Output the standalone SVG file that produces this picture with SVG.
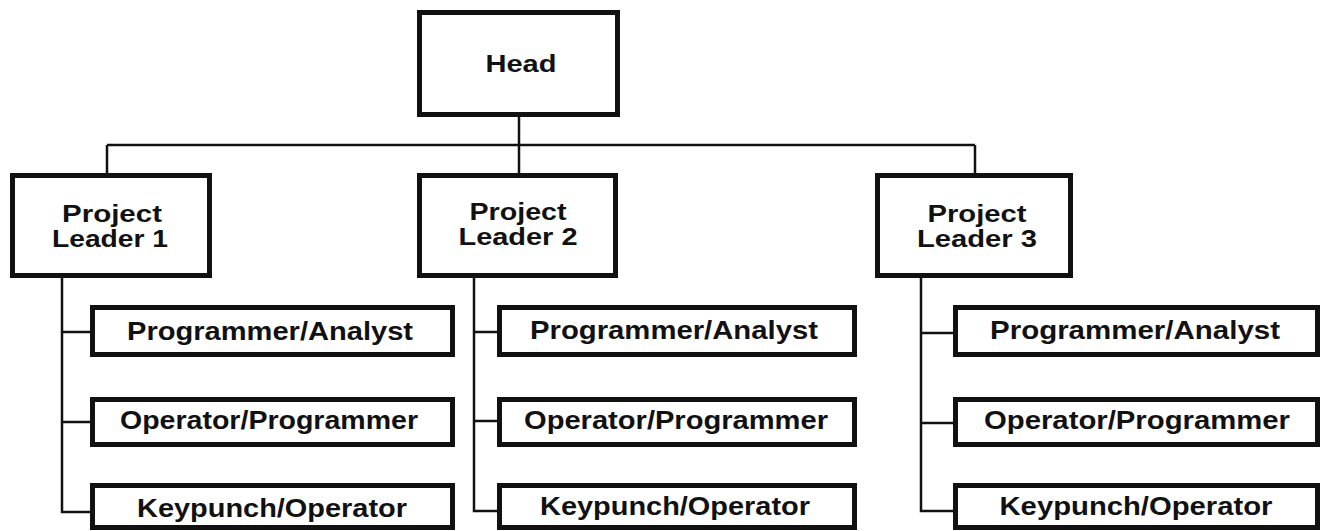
<svg xmlns="http://www.w3.org/2000/svg" width="1322" height="531" viewBox="0 0 1322 531">
<style>
.box{fill:#fff;stroke:#111;stroke-width:5}
.ln{fill:none;stroke:#111;stroke-width:2.5}
text{font-family:"Liberation Sans",Arial,sans-serif;font-weight:bold;font-size:24px;fill:#111;text-anchor:middle}
.c{font-size:25px}
.p{font-size:23.5px}
</style>
<rect width="1322" height="531" fill="#fff"/>
<g id="connectors">
<path class="ln" d="M519 117V145M107 145H975M107 145V173M519 145V173M975 145V173"/>
<path class="ln" d="M62 278V512H90M62 332H90M62 422H90"/>
<path class="ln" d="M474 278V511H497M474 332H497M474 421H497"/>
<path class="ln" d="M921 278V511H953M921 333H953M921 423H953"/>
</g>
<g id="head"><rect class="box" x="419.5" y="12.5" width="198" height="102"/><text x="521" y="72" textLength="71" lengthAdjust="spacingAndGlyphs">Head</text></g>
<g id="pl1"><rect class="box" x="12.5" y="175.5" width="197" height="100"/><text class="p" x="112" y="222" textLength="100" lengthAdjust="spacingAndGlyphs">Project</text><text class="p" x="110" y="247" textLength="116" lengthAdjust="spacingAndGlyphs">Leader 1</text></g>
<g id="pl2"><rect class="box" x="419.5" y="175.5" width="196" height="100"/><text class="p" x="518" y="220" textLength="97" lengthAdjust="spacingAndGlyphs">Project</text><text class="p" x="518" y="245" textLength="119" lengthAdjust="spacingAndGlyphs">Leader 2</text></g>
<g id="pl3"><rect class="box" x="877.5" y="175.5" width="193" height="100"/><text class="p" x="977" y="222" textLength="99" lengthAdjust="spacingAndGlyphs">Project</text><text class="p" x="977" y="247" textLength="120" lengthAdjust="spacingAndGlyphs">Leader 3</text></g>
<g id="pa1"><rect class="box" x="92.5" y="307.5" width="360" height="47"/><text class="c" x="270" y="340" textLength="286" lengthAdjust="spacingAndGlyphs">Programmer/Analyst</text></g>
<g id="op1"><rect class="box" x="92.5" y="399.5" width="360" height="45"/><text class="c" x="269" y="429" textLength="298" lengthAdjust="spacingAndGlyphs">Operator/Programmer</text></g>
<g id="ko1"><rect class="box" x="92.5" y="485.5" width="360" height="42"/><text class="c" x="272" y="517" textLength="270" lengthAdjust="spacingAndGlyphs">Keypunch/Operator</text></g>
<g id="pa2"><rect class="box" x="499.5" y="307.5" width="355" height="47"/><text class="c" x="674" y="339" textLength="288" lengthAdjust="spacingAndGlyphs">Programmer/Analyst</text></g>
<g id="op2"><rect class="box" x="499.5" y="399.5" width="355" height="45"/><text class="c" x="676" y="429" textLength="304" lengthAdjust="spacingAndGlyphs">Operator/Programmer</text></g>
<g id="ko2"><rect class="box" x="499.5" y="485.5" width="355" height="42"/><text class="c" x="675" y="515" textLength="270" lengthAdjust="spacingAndGlyphs">Keypunch/Operator</text></g>
<g id="pa3"><rect class="box" x="955.5" y="307.5" width="362" height="47"/><text class="c" x="1135" y="339" textLength="290" lengthAdjust="spacingAndGlyphs">Programmer/Analyst</text></g>
<g id="op3"><rect class="box" x="955.5" y="399.5" width="362" height="45"/><text class="c" x="1137" y="429" textLength="306" lengthAdjust="spacingAndGlyphs">Operator/Programmer</text></g>
<g id="ko3"><rect class="box" x="955.5" y="485.5" width="362" height="42"/><text class="c" x="1136" y="515" textLength="273" lengthAdjust="spacingAndGlyphs">Keypunch/Operator</text></g>
</svg>
